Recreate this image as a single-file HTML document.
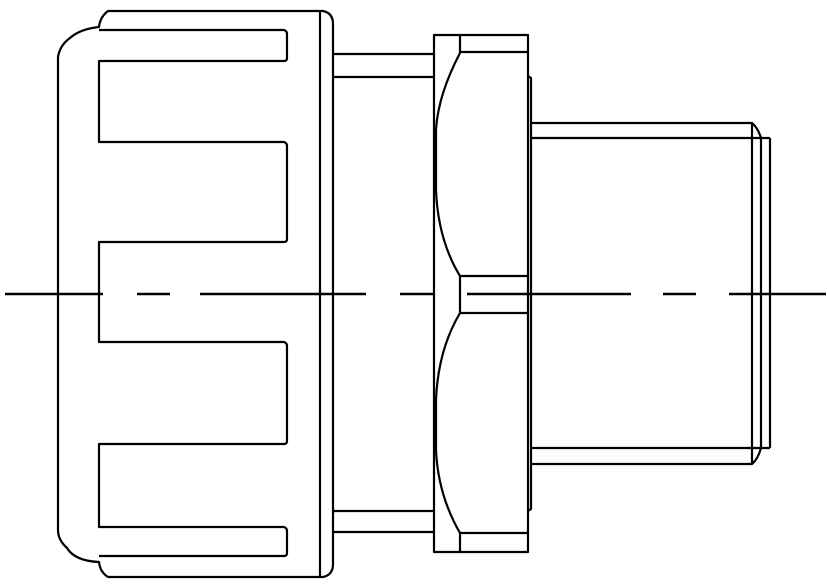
<!DOCTYPE html>
<html><head><meta charset="utf-8"><style>html,body{margin:0;padding:0;background:#fff}svg{display:block}</style></head>
<body>
<svg width="827" height="587" viewBox="0 0 827 587" xmlns="http://www.w3.org/2000/svg">
<g fill="none" stroke="#000" stroke-width="2.2" stroke-linejoin="round">
<!-- knob outer -->
<path d="M108,11 L323,11 Q333,13 333,24 L333,564 Q333,575 323,577 L108,577 Q100,572 99,562 Q75,561 67,548 Q58,540 58,530 L58,57 Q60,45 70,38 Q80,29 99,27 Q100,17 108,11 Z"/>
<line x1="320" y1="11" x2="320" y2="577"/>
<!-- fingers inner outline -->
<path d="M99,30 L284,30 Q287,31 287,34 L287,58 Q287,61 284,61 L99,61 L99,142 L284,142 Q287,143 287,146 L287,239 Q287,242 284,242 L99,242 L99,342 L284,342 Q287,343 287,346 L287,441 Q287,444 284,444 L99,444 L99,527 L284,527 Q287,528 287,531 L287,553 Q287,556 284,556 L99,556"/>
<!-- neck -->
<line x1="333" y1="54" x2="434" y2="54"/>
<line x1="333" y1="77" x2="434" y2="77"/>
<line x1="333" y1="511" x2="434" y2="511"/>
<line x1="333" y1="532" x2="434" y2="532"/>
<!-- hex nut -->
<rect x="434" y="35" width="94" height="517"/>
<line x1="460" y1="35" x2="460" y2="53"/>
<line x1="460" y1="52" x2="528" y2="52"/>
<path d="M460,53 Q438,95 436,130 L436,190 Q438,240 460,276"/>
<line x1="460" y1="276" x2="528" y2="276"/>
<line x1="460" y1="276" x2="460" y2="313"/>
<line x1="460" y1="313" x2="528" y2="313"/>
<path d="M460,313 Q438,350 436,400 L436,450 Q438,495 460,533"/>
<line x1="460" y1="533" x2="528" y2="533"/>
<line x1="460" y1="533" x2="460" y2="552"/>
<!-- flange -->
<path d="M528,76 L531,78 L531,509 L528,511"/>
<!-- threaded body -->
<path d="M531,123 L752,123 Q758,128 761,138"/>
<line x1="531" y1="138" x2="770" y2="138"/>
<path d="M531,464 L752,464 Q758,459 761,448"/>
<line x1="531" y1="448" x2="770" y2="448"/>
<line x1="752" y1="123" x2="752" y2="464"/>
<line x1="761" y1="138" x2="761" y2="448"/>
<line x1="770" y1="138" x2="770" y2="448"/>
</g>
<!-- centerline -->
<g stroke="#000" stroke-width="2.5">
<line x1="5" y1="294" x2="103" y2="294"/>
<line x1="137" y1="294" x2="170" y2="294"/>
<line x1="200" y1="294" x2="366" y2="294"/>
<line x1="400" y1="294" x2="435" y2="294"/>
<line x1="467" y1="294" x2="631" y2="294"/>
<line x1="663" y1="294" x2="696" y2="294"/>
<line x1="729" y1="294" x2="826" y2="294"/>
</g>
</svg>
</body></html>
